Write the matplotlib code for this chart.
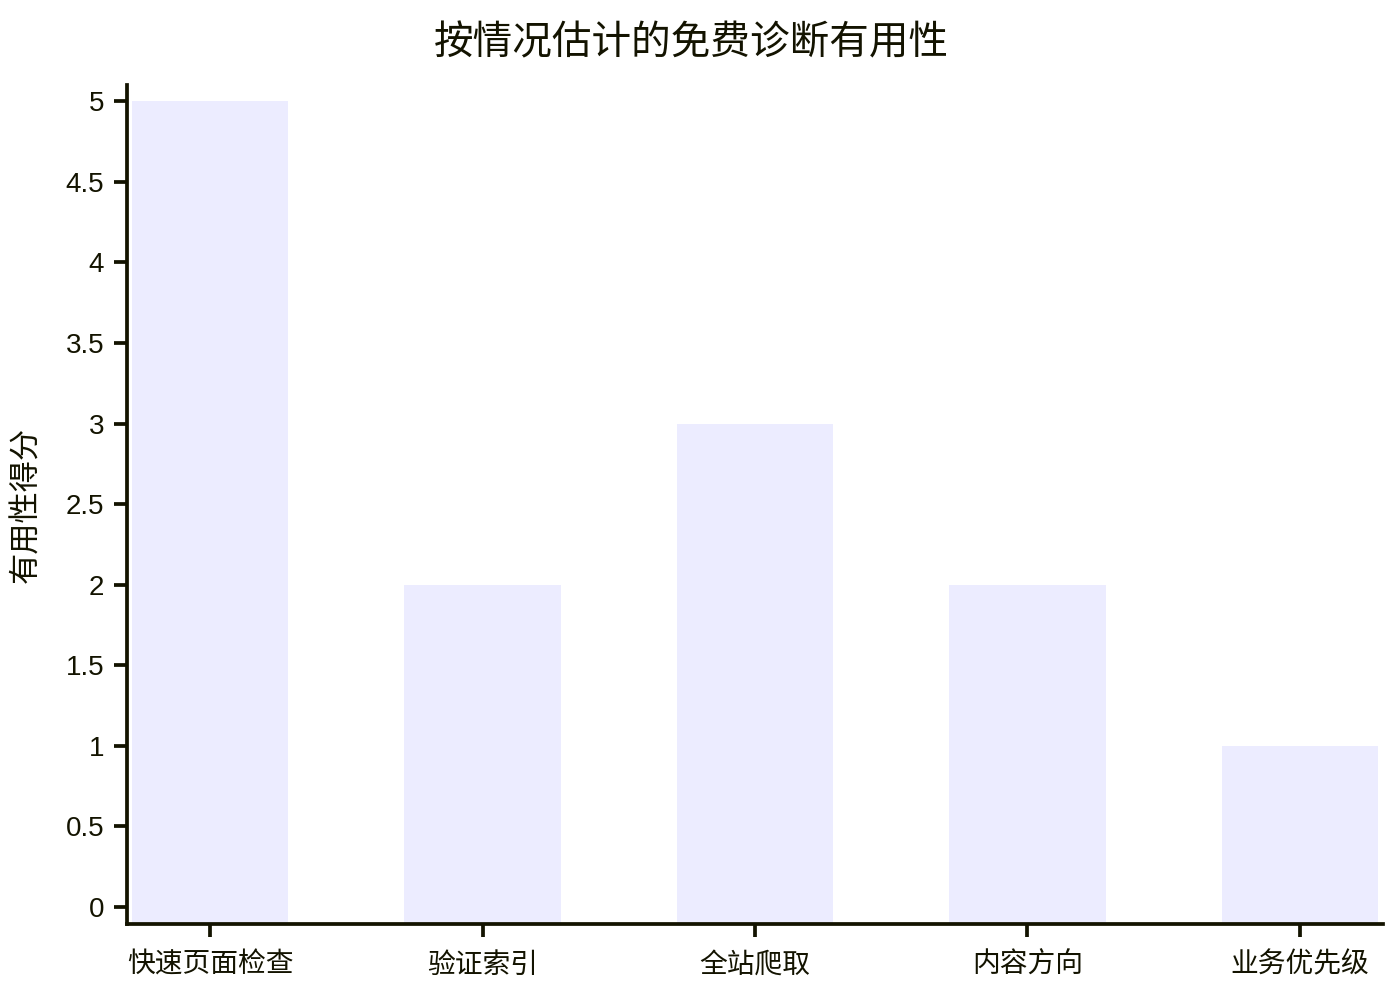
import numpy as np
import matplotlib.pyplot as plt

plt.rcParams['font.family'] = ['Liberation Sans', 'Noto Sans CJK SC', 'DejaVu Sans']

# 数据
categories = ['快速页面检查', '验证索引', '全站爬取', '内容方向', '业务优先级']
scores = [5, 2, 3, 2, 1]
yticks = [0, 0.5, 1, 1.5, 2, 2.5, 3, 3.5, 4, 4.5, 5]
ytick_labels = ['0', '0.5', '1', '1.5', '2', '2.5', '3', '3.5', '4', '4.5', '5']

axis_color = '#131300'
bar_color = '#ECECFF'

fig = plt.figure(figsize=(14, 10), dpi=100)
ax = fig.add_axes([127 / 1400, 76 / 1000, (1383 - 127) / 1400, (924 - 85) / 1000])

ymin, ymax = -0.105, 5.1
x = np.arange(len(categories))
ax.bar(x, np.array(scores) - ymin, bottom=ymin, width=0.573, color=bar_color, linewidth=0)

ax.set_xlim(-0.305, len(categories) - 1 + 0.305)
ax.set_ylim(ymin, ymax)

ax.set_xticks(x)
ax.set_xticklabels(categories)
ax.set_yticks(yticks)
ax.set_yticklabels(ytick_labels)

for s in ['top', 'right']:
    ax.spines[s].set_visible(False)
for s in ['left', 'bottom']:
    ax.spines[s].set_color(axis_color)
    ax.spines[s].set_linewidth(2.7)

ax.tick_params(axis='both', colors=axis_color, labelcolor=axis_color,
               length=9.5, width=2.7, labelsize=20)
ax.tick_params(axis='x', pad=11)
ax.tick_params(axis='y', pad=7)

ax.set_ylabel('有用性得分', fontsize=22.5, color=axis_color, labelpad=17)
fig.text(0.494, 0.957, '按情况估计的免费诊断有用性', fontsize=28.5,
         color=axis_color, ha='center', va='center')

fig.savefig('out.png', dpi=100)
